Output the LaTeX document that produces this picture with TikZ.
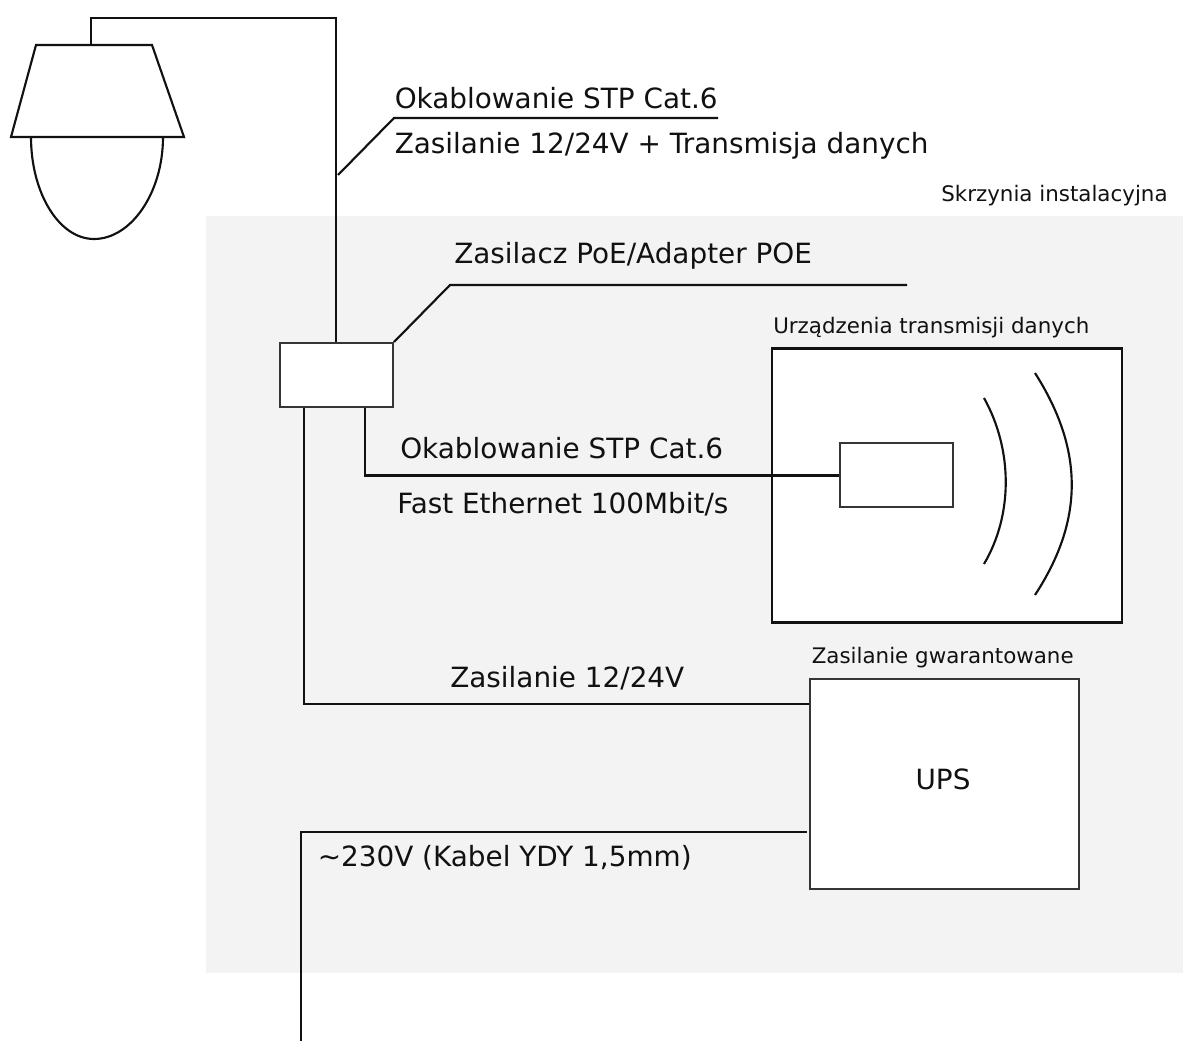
\documentclass[tikz,border=0pt]{standalone}
\usepackage{fontspec}
\setmainfont{DejaVu Sans}
\definecolor{panel}{HTML}{F3F3F3}
\definecolor{ink}{HTML}{111111}
\tikzset{
 px/.style={x=0.75pt,y=-0.75pt},
 ln/.style={draw=ink,line width=1.6pt},
 box/.style={draw=ink!85,line width=1.5pt,fill=white,inner sep=0pt},
 big/.style={inner sep=0pt,anchor=base west,text=ink,font=\fontsize{20.9}{24}\selectfont},
 small/.style={inner sep=0pt,anchor=base west,text=ink,font=\fontsize{16.05}{19}\selectfont},
}
\begin{document}
\begin{tikzpicture}[px]
\useasboundingbox (0,0) rectangle (1183,1041);
\fill[panel] (206,216) rectangle (1183,973);
% camera
\draw[ln,fill=white] (31,137) .. controls (31,193) and (59,239) .. (94,239) .. controls (131,239) and (163,193) .. (163,137);
\draw[ln,fill=white] (36,45) -- (152,45) -- (184,137) -- (11,137) -- cycle;
\coordinate (camtop) at (91,45);
\coordinate (c1) at (91,18);
\coordinate (c2) at (336,18);
\node[box,minimum width=84.75pt,minimum height=48pt] (poe) at (336.5,375) {};
\draw[ln] (camtop) -- (c1) -- (c2) -- (poe.north -| c2);
\coordinate (l1a) at (338,175);
\coordinate (l1b) at (394,118);
\coordinate (l1c) at (718,118);
\draw[ln] (l1a) -- (l1b) -- (l1c);
\node[big] (t1) at (394.5,108.5) {Okablowanie STP Cat.6};
\node[big] (t2) at (394.5,153.5) {Zasilanie 12/24V + Transmisja danych};
\node[small] (t3) at (941,201.5) {Skrzynia instalacyjna};
\node[big] (t4) at (454,264) {Zasilacz PoE/Adapter POE};
\coordinate (l2b) at (450,285);
\coordinate (l2c) at (907,285);
\draw[ln] (poe.north east) -- (l2b) -- (l2c);
\node[small] (t5) at (773,333.5) {Urządzenia transmisji danych};
\node[box,draw=ink,line width=1.8pt,minimum width=262.5pt,minimum height=205.5pt] (tx) at (947,485.5) {};
\node[box,minimum width=84.75pt,minimum height=48pt] (dev) at (896.5,475.5) {};
\coordinate (e1) at (365,475.5);
\draw[ln] (poe.south -| e1) -- (e1) -- (dev.west);
\draw[ln] (984,398) .. controls (1013,450) and (1013,515) .. (984,564);
\draw[ln] (1035,373) .. controls (1084,450) and (1084,520) .. (1035,595);
\node[big] (t6) at (400,459) {Okablowanie STP Cat.6};
\node[big] (t7) at (397,513.5) {Fast Ethernet 100Mbit/s};
\node[small] (t8) at (811.5,663) {Zasilanie gwarantowane};
\node[box,minimum width=201.75pt,minimum height=157.5pt] (ups) at (944.5,783.5) {};
\node[big,anchor=base] (upst) at (943,789) {UPS};
\node[big] (t9) at (450,687.5) {Zasilanie 12/24V};
\coordinate (p1) at (304,704);
\draw[ln] (poe.south -| p1) -- (p1) -- (ups.west |- p1);
\coordinate (m1) at (301,1041);
\coordinate (m2) at (301,832);
\coordinate (m3) at (807,832);
\draw[ln] (m1) -- (m2) -- (m3);
\node[big] (t10) at (317.5,866.5) {\char`\~230V (Kabel YDY 1,5mm)};
\end{tikzpicture}
\end{document}
